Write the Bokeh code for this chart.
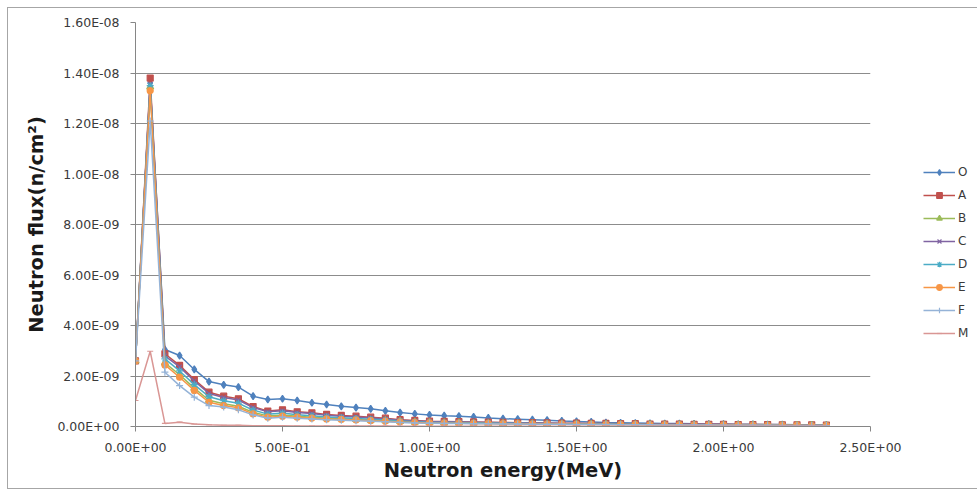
from bokeh.plotting import figure
from bokeh.models import (Range1d, FixedTicker, CustomJSTickFormatter, Legend, LegendItem)
from bokeh.embed import file_html
from bokeh.resources import INLINE

energy = [0.00, 0.05, 0.10, 0.15, 0.20, 0.25, 0.30, 0.35, 0.40, 0.45,
          0.50, 0.55, 0.60, 0.65, 0.70, 0.75, 0.80, 0.85, 0.90, 0.95,
          1.00, 1.05, 1.10, 1.15, 1.20, 1.25, 1.30, 1.35, 1.40, 1.45,
          1.50, 1.55, 1.60, 1.65, 1.70, 1.75, 1.80, 1.85, 1.90, 1.95,
          2.00, 2.05, 2.10, 2.15, 2.20, 2.25, 2.30, 2.35]

# flux values in units of 1e-9 n/cm^2
flux_O = [2.62, 13.60, 3.05, 2.81, 2.26, 1.78, 1.65, 1.56, 1.20, 1.07,
          1.10, 1.03, 0.94, 0.87, 0.80, 0.75, 0.70, 0.62, 0.55, 0.50,
          0.46, 0.43, 0.41, 0.38, 0.34, 0.31, 0.29, 0.27, 0.25, 0.22,
          0.20, 0.18, 0.16, 0.15, 0.14, 0.13, 0.12, 0.12, 0.11, 0.10,
          0.10, 0.09, 0.09, 0.08, 0.08, 0.07, 0.07, 0.06]
flux_A = [2.60, 13.80, 2.88, 2.42, 1.86, 1.36, 1.20, 1.10, 0.79, 0.61,
          0.66, 0.58, 0.54, 0.48, 0.44, 0.41, 0.37, 0.33, 0.27, 0.24,
          0.21, 0.20, 0.19, 0.18, 0.17, 0.16, 0.15, 0.15, 0.14, 0.13,
          0.13, 0.12, 0.12, 0.11, 0.11, 0.10, 0.10, 0.10, 0.09, 0.09,
          0.09, 0.08, 0.08, 0.08, 0.07, 0.07, 0.07, 0.06]
flux_B = [2.60, 13.45, 2.52, 2.05, 1.52, 1.04, 0.90, 0.80, 0.56, 0.42,
          0.46, 0.41, 0.37, 0.33, 0.31, 0.28, 0.25, 0.23, 0.20, 0.17,
          0.15, 0.14, 0.14, 0.13, 0.12, 0.12, 0.11, 0.11, 0.10, 0.10,
          0.10, 0.09, 0.09, 0.08, 0.08, 0.08, 0.07, 0.07, 0.07, 0.06,
          0.06, 0.06, 0.06, 0.05, 0.05, 0.05, 0.05, 0.04]
flux_C = [2.60, 13.55, 2.80, 2.36, 1.80, 1.31, 1.15, 1.05, 0.75, 0.58,
          0.62, 0.55, 0.51, 0.45, 0.41, 0.38, 0.34, 0.30, 0.25, 0.22,
          0.20, 0.19, 0.18, 0.17, 0.16, 0.15, 0.14, 0.14, 0.13, 0.12,
          0.12, 0.11, 0.11, 0.10, 0.10, 0.09, 0.09, 0.09, 0.08, 0.08,
          0.08, 0.07, 0.07, 0.07, 0.06, 0.06, 0.06, 0.05]
flux_D = [2.60, 13.50, 2.68, 2.20, 1.66, 1.18, 1.02, 0.92, 0.65, 0.49,
          0.53, 0.47, 0.43, 0.38, 0.35, 0.32, 0.29, 0.26, 0.22, 0.19,
          0.17, 0.16, 0.16, 0.15, 0.14, 0.13, 0.13, 0.12, 0.12, 0.11,
          0.11, 0.10, 0.10, 0.09, 0.09, 0.08, 0.08, 0.08, 0.07, 0.07,
          0.07, 0.06, 0.06, 0.06, 0.06, 0.05, 0.05, 0.05]
flux_E = [2.60, 13.30, 2.44, 1.95, 1.43, 0.96, 0.83, 0.74, 0.50, 0.37,
          0.41, 0.37, 0.33, 0.30, 0.28, 0.26, 0.23, 0.21, 0.18, 0.16,
          0.14, 0.13, 0.13, 0.12, 0.12, 0.11, 0.11, 0.10, 0.10, 0.10,
          0.09, 0.09, 0.08, 0.08, 0.08, 0.07, 0.07, 0.07, 0.06, 0.06,
          0.06, 0.06, 0.05, 0.05, 0.05, 0.05, 0.04, 0.04]
flux_F = [2.60, 12.10, 2.15, 1.62, 1.16, 0.83, 0.77, 0.66, 0.46, 0.33,
          0.37, 0.33, 0.30, 0.27, 0.25, 0.23, 0.21, 0.19, 0.16, 0.14,
          0.13, 0.12, 0.12, 0.11, 0.11, 0.10, 0.10, 0.09, 0.09, 0.09,
          0.08, 0.08, 0.08, 0.07, 0.07, 0.07, 0.06, 0.06, 0.06, 0.06,
          0.05, 0.05, 0.05, 0.05, 0.04, 0.04, 0.04, 0.04]
flux_M = [1.03, 2.98, 0.12, 0.17, 0.10, 0.07, 0.05, 0.05, 0.03, 0.03,
          0.03, 0.02, 0.02, 0.02, 0.02, 0.02, 0.02, 0.02, 0.01, 0.01,
          0.01, 0.01, 0.01, 0.01, 0.01, 0.01, 0.01, 0.01, 0.01, 0.01,
          0.01, 0.01, 0.01, 0.01, 0.01, 0.01, 0.01, 0.01, 0.01, 0.01,
          0.01, 0.01, 0.01, 0.01, 0.01, 0.01, 0.01, 0.01]

series_names = ["O", "A", "B", "C", "D", "E", "F", "M"]
series_vals = [flux_O, flux_A, flux_B, flux_C, flux_D, flux_E, flux_F, flux_M]
colors = ["#4F81BD", "#C0504D", "#9BBB59", "#8064A2", "#4BACC6", "#F79646", "#95B3D7", "#D99694"]
markers = ["diamond", "square", "triangle", "x", "asterisk", "circle", "cross", "dash"]
msizes = [7, 6, 7, 6, 7, 6, 7, 6]

x_ticks = [0.0, 0.5, 1.0, 1.5, 2.0, 2.5]
y_ticks = [0, 2e-9, 4e-9, 6e-9, 8e-9, 1e-8, 1.2e-8, 1.4e-8, 1.6e-8]

p = figure(frame_width=735, frame_height=404, output_backend="svg", toolbar_location=None,
           x_range=Range1d(0, 2.5), y_range=Range1d(0, 1.6e-8),
           min_border_left=127, min_border_right=0, min_border_top=14, min_border_bottom=62)
p.styles = {"margin": "7px 0px 0px 7px", "border": "1px solid #a6a6a6"}
p.outline_line_color = None
p.background_fill_color = "white"
p.border_fill_color = "white"

fmt = CustomJSTickFormatter(code="""
const s = tick.toExponential(2);
const parts = s.split('e');
const e = parseInt(parts[1]);
const n = Math.abs(e);
return parts[0] + 'E' + (e < 0 ? '-' : '+') + (n < 10 ? '0' : '') + n;
""")

p.xaxis.ticker = FixedTicker(ticks=x_ticks)
p.yaxis.ticker = FixedTicker(ticks=y_ticks)
p.xaxis.formatter = fmt
p.yaxis.formatter = fmt
for ax in (p.xaxis, p.yaxis):
    ax.axis_line_color = "#868686"
    ax.major_tick_line_color = "#868686"
    ax.major_tick_out = 5
    ax.major_tick_in = 0
    ax.minor_tick_line_color = None
    ax.major_label_text_font = "DejaVu Sans"
    ax.major_label_text_font_size = "12.5px"
    ax.major_label_text_color = "#3a3a3a"
    ax.axis_label_text_font = "DejaVu Sans"
    ax.axis_label_text_font_style = "bold"
    ax.axis_label_text_font_size = "19.5px"
    ax.axis_label_text_color = "#1a1a1a"
p.xaxis.axis_label = "Neutron energy(MeV)"
p.yaxis.axis_label = "Neutron flux(n/cm\u00b2)"
p.xaxis.major_label_standoff = 8
p.yaxis.major_label_standoff = 11
p.xaxis.axis_label_standoff = 1
p.yaxis.axis_label_standoff = 6

p.xgrid.grid_line_color = None
p.ygrid.grid_line_color = "#8c8c8c"
p.ygrid.grid_line_width = 1

items = []
for name, vals, c, m, s in zip(series_names, series_vals, colors, markers, msizes):
    yv = [v * 1e-9 for v in vals]
    r1 = p.line(energy, yv, line_color=c, line_width=1.5)
    r2 = p.scatter(energy, yv, marker=m, size=s, line_color=c, fill_color=c, line_width=1.2)
    items.append(LegendItem(label=name, renderers=[r1, r2]))

legend = Legend(items=items, location=(53, 83), glyph_width=32, glyph_height=14,
                label_height=20, spacing=3, padding=5, margin=0,
                label_text_font="DejaVu Sans", label_text_font_size="12px",
                label_text_color="#3a3a3a", label_standoff=3,
                border_line_color=None, background_fill_alpha=0)
p.add_layout(legend, "right")
p.min_border_right = 105

open("out.html", "w").write(file_html(p, INLINE))
